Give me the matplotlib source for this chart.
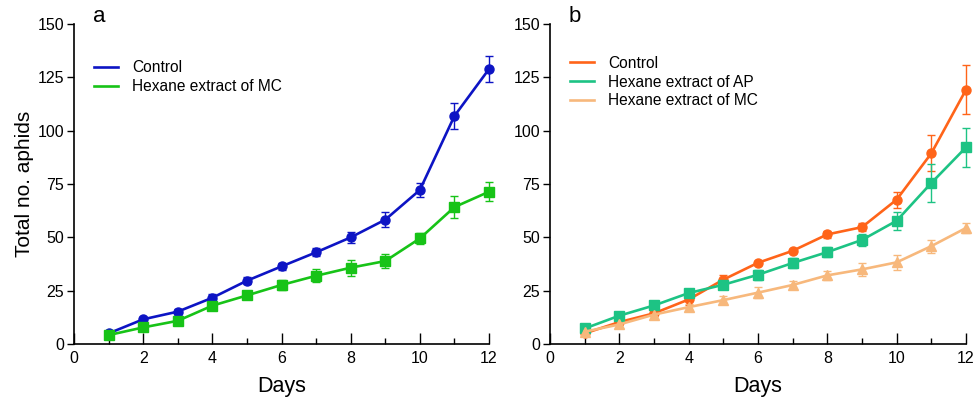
import matplotlib
matplotlib.use('Agg')
import matplotlib.pyplot as plt
from matplotlib.ticker import MultipleLocator
from matplotlib.lines import Line2D
import numpy as np

plt.rcParams['font.family'] = ['Liberation Sans', 'DejaVu Sans']

days = np.arange(1, 13)

# panel a
a_control = [5.0, 11.6, 15.2, 21.7, 29.7, 36.4, 43.0, 50.0, 58.3, 72.2, 106.9, 128.9]
a_control_err = [1.0, 1.0, 1.0, 1.8, 1.5, 1.8, 1.8, 2.4, 3.5, 3.3, 6.1, 6.2]
a_mc = [4.2, 7.8, 10.9, 18.0, 22.8, 27.7, 32.0, 35.8, 38.9, 49.5, 64.2, 71.4]
a_mc_err = [1.0, 1.5, 1.5, 1.5, 1.5, 2.5, 3.0, 3.7, 3.3, 2.5, 5.0, 4.5]

# panel b
b_control = [5.0, 10.3, 14.4, 20.9, 30.2, 38.1, 43.7, 51.4, 54.8, 67.7, 89.4, 119.2]
b_control_err = [1.0, 1.0, 1.0, 2.7, 2.0, 1.0, 1.0, 1.5, 2.0, 3.8, 8.4, 11.5]
b_ap = [7.3, 13.3, 18.1, 23.9, 27.8, 32.5, 38.0, 43.1, 48.8, 57.8, 75.5, 92.2]
b_ap_err = [1.0, 1.0, 1.5, 1.0, 1.0, 2.3, 2.3, 2.3, 2.7, 4.3, 9.0, 9.0]
b_mc = [5.8, 9.2, 13.8, 17.3, 20.6, 24.1, 27.7, 32.2, 35.0, 38.3, 45.9, 54.4]
b_mc_err = [1.5, 1.5, 1.5, 1.5, 2.0, 2.5, 2.0, 2.0, 3.0, 3.5, 3.0, 2.5]

fig = plt.figure(figsize=(9.78, 4.01), dpi=100)
axA = fig.add_axes([0.0757, 0.142, 0.4243, 0.798])
axB = fig.add_axes([0.5624, 0.142, 0.4253, 0.798])


def series(ax, y, err, color, marker, label, ms=6.5):
    ax.errorbar(days, y, yerr=err, color=color, lw=1.9, marker=marker, ms=ms,
                elinewidth=1.0, capsize=3, capthick=1.0,
                clip_on=False, zorder=3)
    return Line2D([], [], color=color, lw=1.9, label=label)


def style(ax, letter, handles, leg_y):
    ax.set_xlim(0, 12)
    ax.set_ylim(0, 150)
    ax.spines['top'].set_visible(False)
    ax.spines['right'].set_visible(False)
    ax.xaxis.set_major_locator(MultipleLocator(2))
    ax.xaxis.set_minor_locator(MultipleLocator(1))
    ax.yaxis.set_major_locator(MultipleLocator(25))
    ax.tick_params(axis='x', which='major', direction='in', length=8, width=1, labelsize=11.5, pad=5)
    ax.tick_params(axis='x', which='minor', direction='in', length=4, width=1)
    ax.tick_params(axis='y', direction='out', length=5, width=1, labelsize=11.5, pad=2)
    for s in ['left', 'bottom']:
        ax.spines[s].set_linewidth(1.2)
    ax.set_xlabel('Days', fontsize=15.5, labelpad=7)
    ax.text(0.045, 1.025, letter, transform=ax.transAxes, fontsize=16, va='center')
    ax.legend(handles=handles, loc='upper left', bbox_to_anchor=(0.015, leg_y),
              frameon=False, fontsize=11.2, handlelength=1.55, handletextpad=0.9,
              labelspacing=0.25)


hA = [series(axA, a_control, a_control_err, '#0d14c4', 'o', 'Control'),
      series(axA, a_mc, a_mc_err, '#17c317', 's', 'Hexane extract of MC')]
axA.set_ylabel('Total no. aphids', fontsize=15, labelpad=3)
style(axA, 'a', hA, 0.93)

hB = [series(axB, b_control, b_control_err, '#ff6419', 'o', 'Control'),
      series(axB, b_ap, b_ap_err, '#1dc384', 's', 'Hexane extract of AP'),
      series(axB, b_mc, b_mc_err, '#f7b87c', '^', 'Hexane extract of MC')]
style(axB, 'b', hB, 0.945)

fig.savefig('out.png', dpi=100)
